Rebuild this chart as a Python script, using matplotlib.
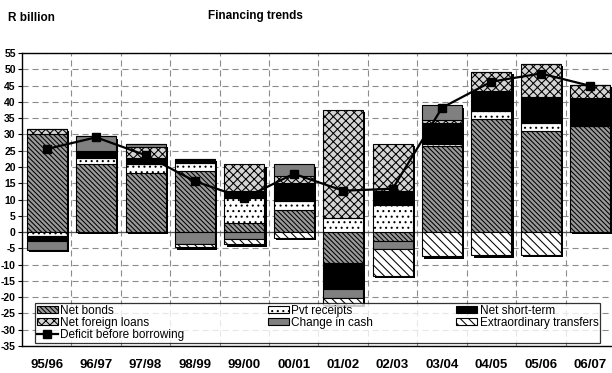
import matplotlib
matplotlib.use("Agg")
import matplotlib.pyplot as pyplot
import matplotlib.transforms as transforms
from matplotlib.lines import Line2D
import numpy

YEARS = ["95/96", "96/97", "97/98", "98/99", "99/00", "00/01",
         "01/02", "02/03", "03/04", "04/05", "05/06", "06/07"]

# R billion, stacked in this order
NET_BONDS = [30.1, 21.0, 18.1, 18.7, 2.9, 6.7, -9.4, -2.7, 26.3, 34.7, 30.9, 32.6]
PVT_RECEIPTS = [-1.3, 1.6, 2.7, 2.4, 7.7, 2.8, 4.4, 8.2, 0.7, 2.6, 2.5, 0.0]
NET_SHORT_TERM = [-1.3, 2.3, 2.1, 1.4, 2.0, 5.7, -8.2, 4.4, 6.5, 5.9, 8.0, 8.5]
NET_FOREIGN_LOANS = [1.5, 0.0, 3.1, 0.0, 8.2, 2.0, 33.2, 14.4, 0.8, 5.9, 10.2, 4.2]
CHANGE_IN_CASH = [-3.0, 4.5, 0.9, -3.8, -2.2, 3.6, -2.6, -2.6, 4.6, 0.0, 0.0, 0.0]
EXTRAORDINARY = [0.0, 0.0, 0.0, -0.9, -1.6, -1.8, -2.1, -8.1, -7.5, -7.2, -6.9, 0.0]
DEFICIT = [25.5, 29.1, 23.6, 15.6, 10.4, 17.9, 12.7, 13.3, 38.2, 46.2, 48.7, 44.9]

SERIES = [
    ("Net bonds", NET_BONDS, {"facecolor": "#9a9a9a", "hatch": "\\" * 7}),
    ("Pvt receipts", PVT_RECEIPTS, {"facecolor": "white", "hatch": "..."}),
    ("Net short-term", NET_SHORT_TERM, {"facecolor": "black", "hatch": None}),
    ("Net foreign loans", NET_FOREIGN_LOANS, {"facecolor": "#d4d4d4", "hatch": "xxxx"}),
    ("Change in cash", CHANGE_IN_CASH, {"facecolor": "#808080", "hatch": None}),
    ("Extraordinary transfers", EXTRAORDINARY, {"facecolor": "white", "hatch": "\\" * 4}),
]

BAR_WIDTH = 0.81

pyplot.rcParams["font.family"] = ["Liberation Sans", "DejaVu Sans"]
pyplot.rcParams["hatch.linewidth"] = 0.75

fig = pyplot.figure(figsize=(6.12, 3.73), dpi=100)
ax = fig.add_axes([22 / 612, 1 - 346 / 373, 593 / 612, 293 / 373])

x = numpy.arange(len(YEARS))
values = numpy.array([s[1] for s in SERIES])
pos_total = numpy.where(values > 0, values, 0).sum(axis=0)
neg_total = numpy.where(values < 0, values, 0).sum(axis=0)

# drop shadow behind each stack
shadow = transforms.offset_copy(ax.transData, fig=fig, x=2.2, y=-2.2, units="dots")
for total in (pos_total, neg_total):
    ax.bar(x, total, BAR_WIDTH, color="black", linewidth=0, transform=shadow, zorder=2)

pos_cum = numpy.zeros(len(YEARS))
neg_cum = numpy.zeros(len(YEARS))
handles = {}
for name, vals, style in SERIES:
    vals = numpy.array(vals)
    bottom = numpy.where(vals >= 0, pos_cum, neg_cum)
    bars = ax.bar(x, vals, BAR_WIDTH, bottom=bottom, facecolor=style["facecolor"],
                  hatch=style["hatch"], edgecolor="black", linewidth=0.8, zorder=3,
                  label=name)
    handles[name] = bars
    pos_cum = pos_cum + numpy.where(vals > 0, vals, 0)
    neg_cum = neg_cum + numpy.where(vals < 0, vals, 0)

ax.plot(x, DEFICIT, color="black", linewidth=1.6, marker="s", markersize=5.5, zorder=5)
handles["Deficit before borrowing"] = Line2D([], [], color="black", linewidth=1.6,
                                             marker="s", markersize=5.5)

ax.axhline(0, color="#555555", linewidth=0.9, zorder=1.5)

ax.set_xlim(-0.5, len(YEARS) - 0.5)
ax.set_ylim(-35, 55)
yticks = numpy.arange(-35, 56, 5)
ax.set_yticks(yticks)
ax.set_yticklabels(["%d" % v for v in yticks], fontsize=7.5, fontweight="bold")
ax.set_xticks(x)
ax.set_xticklabels(YEARS, fontsize=9.5, fontweight="bold")
ax.set_xticks(x[:-1] + 0.5, minor=True)
ax.tick_params(axis="x", which="both", length=0, pad=9.5)
ax.tick_params(axis="y", length=3, width=0.8, pad=1.5)

ax.yaxis.grid(True, color="#8c8c8c", linewidth=0.8, linestyle=(0, (5.5, 3.5)))
ax.xaxis.grid(True, which="minor", color="#8c8c8c", linewidth=0.8, linestyle=(0, (5.5, 3.5)))
ax.set_axisbelow(True)
for spine in ax.spines.values():
    spine.set_linewidth(1.0)
    spine.set_color("black")

order = ["Net bonds", "Net foreign loans", "Deficit before borrowing",
         "Pvt receipts", "Change in cash", "Net short-term", "Extraordinary transfers"]
leg = ax.legend([handles[n] for n in order], order, ncol=3, mode="expand",
                bbox_to_anchor=(0.022, 0.010, 0.953, 0.127), loc="lower left",
                fontsize=8.5, frameon=True, fancybox=False, borderaxespad=0,
                handlelength=1.8, handleheight=0.55, handletextpad=0.2,
                labelspacing=0.02, borderpad=0.15, columnspacing=1.0)
leg.get_frame().set_edgecolor("black")
leg.get_frame().set_linewidth(0.9)
leg.set_zorder(6)

fig.text(8 / 612, 1 - 18 / 373, "R billion", ha="left", va="center",
         fontsize=8.5, fontweight="bold")
fig.text(255 / 612, 1 - 16 / 373, "Financing trends", ha="center", va="center",
         fontsize=8.5, fontweight="bold")

fig.savefig("out.png", dpi=100)
